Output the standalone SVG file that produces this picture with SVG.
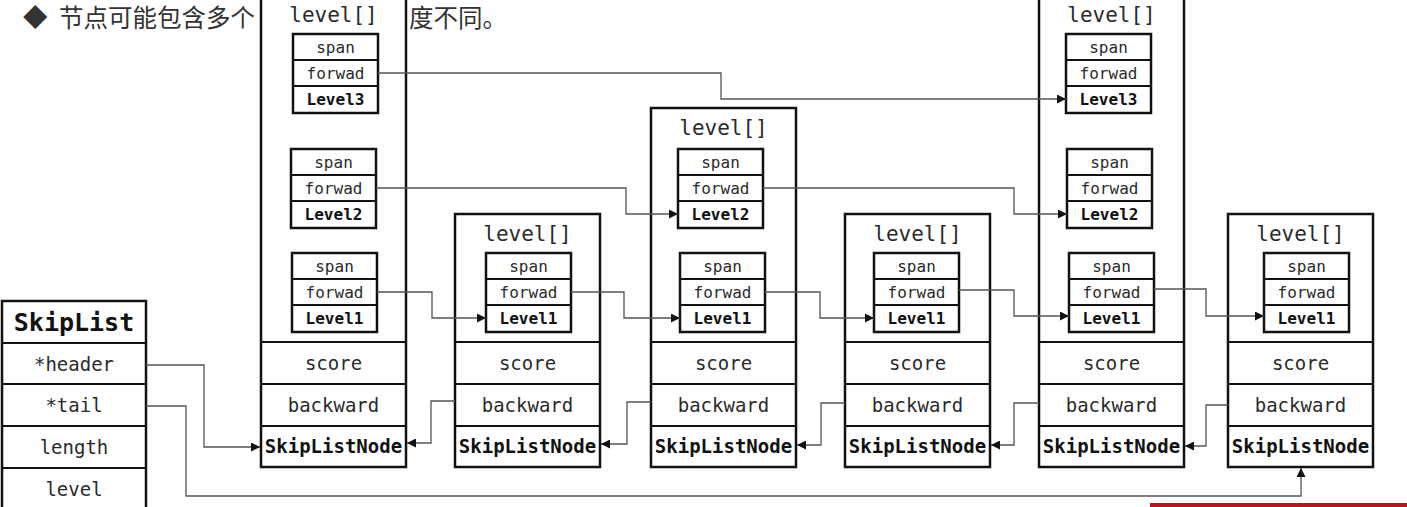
<svg xmlns="http://www.w3.org/2000/svg" width="1407" height="507" viewBox="0 0 1407 507">
<style>
.box{fill:#fff;stroke:#111;stroke-width:2.5}
.dv{stroke:#111;stroke-width:2.2}
.t{font-family:"DejaVu Sans Mono",monospace;text-anchor:middle;dominant-baseline:central;fill:#2a2a2a}
.sm{font-size:16px}
.md{font-size:19px}
.lv{font-size:21px}
.b{font-weight:bold;fill:#111}
.ttl{font-size:25px}
.cn{fill:none;stroke:#555;stroke-width:1.3}
.zh{font-family:"Noto Sans CJK SC","Noto Sans",sans-serif;font-size:24.5px;fill:#333}
</style>
<defs>
<marker id="ar" viewBox="0 0 10 10" refX="10" refY="5" markerWidth="9" markerHeight="9" markerUnits="userSpaceOnUse" orient="auto">
<path d="M0,0 L10,5 L0,10 z" fill="#111"/>
</marker>
</defs>
<rect width="1407" height="507" fill="#fff"/>
<g id="title">
<text class="zh" x="23" y="27">◆</text>
<text class="zh" x="59 83.5 108 132.5 157 181.5 206 230.5" y="27">节点可能包含多个</text>
<text class="zh" x="409 433.5 458 482.5" y="27">度不同。</text>
</g>
<rect x="1150" y="503" width="257" height="6" fill="#b3161d"/>

<g id="skiplist">
<rect class="box" x="2" y="301" width="144" height="215"/>
<line class="dv" x1="2" y1="343" x2="146" y2="343"/>
<line class="dv" x1="2" y1="384" x2="146" y2="384"/>
<line class="dv" x1="2" y1="426" x2="146" y2="426"/>
<line class="dv" x1="2" y1="468" x2="146" y2="468"/>
<text class="t ttl b" x="74" y="322">SkipList</text>
<text class="t md" x="74" y="364">*header</text>
<text class="t md" x="74" y="405">*tail</text>
<text class="t md" x="74" y="447">length</text>
<text class="t md" x="74" y="489">level</text>
</g>

<g id="node0">
<rect class="box" x="261" y="-10" width="145" height="477"/>
<line class="dv" x1="261" y1="342" x2="406" y2="342"/>
<line class="dv" x1="261" y1="384" x2="406" y2="384"/>
<line class="dv" x1="261" y1="426" x2="406" y2="426"/>
<text class="t lv" x="333.5" y="15">level[]</text>
<rect class="box" x="293" y="34" width="85" height="79"/>
<line class="dv" x1="293" y1="60" x2="378" y2="60"/><line class="dv" x1="293" y1="86" x2="378" y2="86"/>
<text class="t sm" x="335.5" y="47">span</text><text class="t sm" x="335.5" y="73">forwad</text><text class="t sm b" x="335.5" y="99.5">Level3</text>
<rect class="box" x="291" y="149" width="85" height="79"/>
<line class="dv" x1="291" y1="175" x2="376" y2="175"/><line class="dv" x1="291" y1="201" x2="376" y2="201"/>
<text class="t sm" x="333.5" y="162">span</text><text class="t sm" x="333.5" y="188">forwad</text><text class="t sm b" x="333.5" y="214.5">Level2</text>
<rect class="box" x="292" y="253" width="85" height="79"/>
<line class="dv" x1="292" y1="279" x2="377" y2="279"/><line class="dv" x1="292" y1="305" x2="377" y2="305"/>
<text class="t sm" x="334.5" y="266">span</text><text class="t sm" x="334.5" y="292">forwad</text><text class="t sm b" x="334.5" y="318.5">Level1</text>
<text class="t md" x="333.5" y="363">score</text>
<text class="t md" x="333.5" y="405">backward</text>
<text class="t md b" x="333.5" y="446">SkipListNode</text>
</g>

<g id="node1">
<rect class="box" x="455" y="214" width="145" height="253"/>
<line class="dv" x1="455" y1="342" x2="600" y2="342"/>
<line class="dv" x1="455" y1="384" x2="600" y2="384"/>
<line class="dv" x1="455" y1="426" x2="600" y2="426"/>
<text class="t lv" x="527.5" y="234">level[]</text>
<rect class="box" x="486" y="253" width="85" height="79"/>
<line class="dv" x1="486" y1="279" x2="571" y2="279"/><line class="dv" x1="486" y1="305" x2="571" y2="305"/>
<text class="t sm" x="528.5" y="266">span</text><text class="t sm" x="528.5" y="292">forwad</text><text class="t sm b" x="528.5" y="318.5">Level1</text>
<text class="t md" x="527.5" y="363">score</text>
<text class="t md" x="527.5" y="405">backward</text>
<text class="t md b" x="527.5" y="446">SkipListNode</text>
</g>

<g id="node2">
<rect class="box" x="651" y="108" width="145" height="359"/>
<line class="dv" x1="651" y1="342" x2="796" y2="342"/>
<line class="dv" x1="651" y1="384" x2="796" y2="384"/>
<line class="dv" x1="651" y1="426" x2="796" y2="426"/>
<text class="t lv" x="723.5" y="128">level[]</text>
<rect class="box" x="678" y="149" width="85" height="79"/>
<line class="dv" x1="678" y1="175" x2="763" y2="175"/><line class="dv" x1="678" y1="201" x2="763" y2="201"/>
<text class="t sm" x="720.5" y="162">span</text><text class="t sm" x="720.5" y="188">forwad</text><text class="t sm b" x="720.5" y="214.5">Level2</text>
<rect class="box" x="680" y="253" width="85" height="79"/>
<line class="dv" x1="680" y1="279" x2="765" y2="279"/><line class="dv" x1="680" y1="305" x2="765" y2="305"/>
<text class="t sm" x="722.5" y="266">span</text><text class="t sm" x="722.5" y="292">forwad</text><text class="t sm b" x="722.5" y="318.5">Level1</text>
<text class="t md" x="723.5" y="363">score</text>
<text class="t md" x="723.5" y="405">backward</text>
<text class="t md b" x="723.5" y="446">SkipListNode</text>
</g>

<g id="node3">
<rect class="box" x="845" y="214" width="145" height="253"/>
<line class="dv" x1="845" y1="342" x2="990" y2="342"/>
<line class="dv" x1="845" y1="384" x2="990" y2="384"/>
<line class="dv" x1="845" y1="426" x2="990" y2="426"/>
<text class="t lv" x="917.5" y="234">level[]</text>
<rect class="box" x="874" y="253" width="85" height="79"/>
<line class="dv" x1="874" y1="279" x2="959" y2="279"/><line class="dv" x1="874" y1="305" x2="959" y2="305"/>
<text class="t sm" x="916.5" y="266">span</text><text class="t sm" x="916.5" y="292">forwad</text><text class="t sm b" x="916.5" y="318.5">Level1</text>
<text class="t md" x="917.5" y="363">score</text>
<text class="t md" x="917.5" y="405">backward</text>
<text class="t md b" x="917.5" y="446">SkipListNode</text>
</g>

<g id="node4">
<rect class="box" x="1039" y="-10" width="145" height="477"/>
<line class="dv" x1="1039" y1="342" x2="1184" y2="342"/>
<line class="dv" x1="1039" y1="384" x2="1184" y2="384"/>
<line class="dv" x1="1039" y1="426" x2="1184" y2="426"/>
<text class="t lv" x="1111.5" y="15">level[]</text>
<rect class="box" x="1066" y="34" width="85" height="79"/>
<line class="dv" x1="1066" y1="60" x2="1151" y2="60"/><line class="dv" x1="1066" y1="86" x2="1151" y2="86"/>
<text class="t sm" x="1108.5" y="47">span</text><text class="t sm" x="1108.5" y="73">forwad</text><text class="t sm b" x="1108.5" y="99.5">Level3</text>
<rect class="box" x="1067" y="149" width="85" height="79"/>
<line class="dv" x1="1067" y1="175" x2="1152" y2="175"/><line class="dv" x1="1067" y1="201" x2="1152" y2="201"/>
<text class="t sm" x="1109.5" y="162">span</text><text class="t sm" x="1109.5" y="188">forwad</text><text class="t sm b" x="1109.5" y="214.5">Level2</text>
<rect class="box" x="1069" y="253" width="85" height="79"/>
<line class="dv" x1="1069" y1="279" x2="1154" y2="279"/><line class="dv" x1="1069" y1="305" x2="1154" y2="305"/>
<text class="t sm" x="1111.5" y="266">span</text><text class="t sm" x="1111.5" y="292">forwad</text><text class="t sm b" x="1111.5" y="318.5">Level1</text>
<text class="t md" x="1111.5" y="363">score</text>
<text class="t md" x="1111.5" y="405">backward</text>
<text class="t md b" x="1111.5" y="446">SkipListNode</text>
</g>

<g id="node5">
<rect class="box" x="1228" y="214" width="145" height="253"/>
<line class="dv" x1="1228" y1="342" x2="1373" y2="342"/>
<line class="dv" x1="1228" y1="384" x2="1373" y2="384"/>
<line class="dv" x1="1228" y1="426" x2="1373" y2="426"/>
<text class="t lv" x="1300.5" y="234">level[]</text>
<rect class="box" x="1264" y="253" width="85" height="79"/>
<line class="dv" x1="1264" y1="279" x2="1349" y2="279"/><line class="dv" x1="1264" y1="305" x2="1349" y2="305"/>
<text class="t sm" x="1306.5" y="266">span</text><text class="t sm" x="1306.5" y="292">forwad</text><text class="t sm b" x="1306.5" y="318.5">Level1</text>
<text class="t md" x="1300.5" y="363">score</text>
<text class="t md" x="1300.5" y="405">backward</text>
<text class="t md b" x="1300.5" y="446">SkipListNode</text>
</g>

<g id="connectors">
<path class="cn" marker-end="url(#ar)" d="M378,73 H721 V99 H1066"/>
<path class="cn" marker-end="url(#ar)" d="M376,188 H626 V214 H678"/>
<path class="cn" marker-end="url(#ar)" d="M763,188 H1014 V214 H1067"/>
<path class="cn" marker-end="url(#ar)" d="M377,292 H432 V318 H486"/>
<path class="cn" marker-end="url(#ar)" d="M571,292 H624 V318 H680"/>
<path class="cn" marker-end="url(#ar)" d="M765,292 H820 V318 H874"/>
<path class="cn" marker-end="url(#ar)" d="M959,290 H1014 V316 H1069"/>
<path class="cn" marker-end="url(#ar)" d="M1154,289 H1206 V316 H1264"/>
<path class="cn" marker-end="url(#ar)" d="M455,401 H431 V443 H407"/>
<path class="cn" marker-end="url(#ar)" d="M651,402 H627 V444 H601"/>
<path class="cn" marker-end="url(#ar)" d="M845,403 H821 V445 H797"/>
<path class="cn" marker-end="url(#ar)" d="M1039,403 H1014 V445 H991"/>
<path class="cn" marker-end="url(#ar)" d="M1228,405 H1206 V446 H1185"/>
<path class="cn" marker-end="url(#ar)" d="M146,365 H204 V447 H260"/>
<path class="cn" marker-end="url(#ar)" d="M146,406 H186 V496 H1301 V468"/>
</g>
</svg>
